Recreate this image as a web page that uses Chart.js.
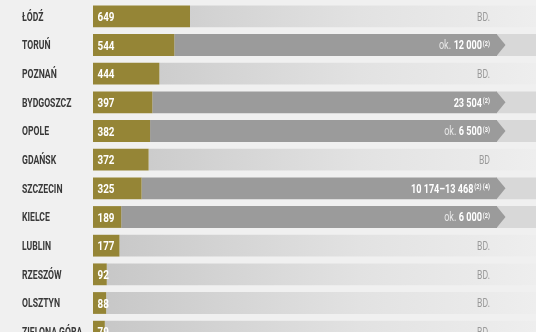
<!DOCTYPE html>
<html><head><meta charset="utf-8">
<script src="https://cdn.jsdelivr.net/npm/chart.js@4"></script>
<style>
html,body{margin:0;padding:0;background:#f0f0f0;overflow:hidden;width:536px;height:332px;}
#wrap{width:536px;height:346px;position:relative;}
</style></head><body>
<div id="wrap"><canvas id="c"></canvas></div>
<script>
const cities = ['ŁÓDŹ','TORUŃ','POZNAŃ','BYDGOSZCZ','OPOLE','GDAŃSK','SZCZECIN','KIELCE','LUBLIN','RZESZÓW','OLSZTYN','ZIELONA GÓRA'];
const counted = [649,544,444,397,382,372,325,189,177,92,88,79];
const estPrefix = ['','ok.','','','ok.','','','ok.','','','',''];
const estimates = ['BD.','12 000','BD.','23 504','6 500','BD','10 174–13 468','6 000','BD.','BD.','BD.','BD.'];
const estNotes = ['','(2)','','(2)','(3)','','(2) (4)','(2)','','','',''];
const hasEst = [false,true,false,true,true,false,true,true,false,false,false,false];

const AXIS_MAX = 2964;
const ARROW_AT = 2703;
const GOLD = '#958536', DARK = '#9b9b9b', TAIL = '#d8d8d8';
const FONT = 'Roboto,"DejaVu Sans",sans-serif';
const SX = 0.73;

function grad(ctx){
  const ch = ctx.chart, a = ch.chartArea;
  if(!a) return '#dddddd';
  const g = ch.ctx.createLinearGradient(a.left,0,a.right,0);
  g.addColorStop(0,'#c6c6c6');
  g.addColorStop(0.6,'#e2e2e2');
  g.addColorStop(1,'#eeeeee');
  return g;
}

function txt(ctx, s, x, y, align, font, color, sx){
  ctx.font = font;
  const w = ctx.measureText(s).width * sx;
  const left = align === 'right' ? x - w : x;
  ctx.save();
  ctx.translate(left, y);
  ctx.scale(sx, 1);
  ctx.textAlign = 'left';
  ctx.textBaseline = 'alphabetic';
  ctx.fillStyle = color;
  ctx.fillText(s, 0, 0);
  ctx.restore();
  return w;
}

const decor = {
  id:'decor',
  afterDatasetsDraw(chart){
    const ctx = chart.ctx;
    ctx.save();
    chart.getDatasetMeta(1).data.forEach((el,i)=>{
      if(!hasEst[i]) return;
      const p = el.getProps(['x','y','height'],true);
      ctx.fillStyle = DARK;
      ctx.beginPath();
      ctx.moveTo(p.x-0.5,p.y-p.height/2);
      ctx.lineTo(p.x+8.5,p.y);
      ctx.lineTo(p.x-0.5,p.y+p.height/2);
      ctx.closePath(); ctx.fill();
    });
    // category labels from the y scale
    const ys = chart.scales.y;
    ys.getLabels().forEach((lab,i)=>{
      const y = ys.getPixelForTick(i);
      txt(ctx, lab, 22, y+4.4, 'left', 'bold 12px '+FONT, '#393939', 0.72);
    });
    chart.getDatasetMeta(0).data.forEach((el,i)=>{
      const p = el.getProps(['base','y'],true);
      txt(ctx, String(counted[i]), p.base+4.5, p.y+4.7, 'left', 'bold 13px '+FONT, '#ffffff', 0.76);
    });
    const right = chart.scales.x.getPixelForValue(ARROW_AT) - 7;
    chart.getDatasetMeta(0).data.forEach((el,i)=>{
      const y = el.getProps(['y'],true).y + 4.4;
      if(!hasEst[i]){
        txt(ctx, estimates[i], right, y, 'right', '12px '+FONT, '#9a9a9a', 0.72);
        return;
      }
      let x = right;
      if(estNotes[i]){
        x -= txt(ctx, estNotes[i], x, y-3.6, 'right', 'bold 7px '+FONT, '#ffffff', 0.8) + 0.8;
      }
      x -= txt(ctx, estimates[i], x, y, 'right', 'bold 12px '+FONT, '#ffffff', 0.76) + 2.5;
      if(estPrefix[i]){
        txt(ctx, estPrefix[i], x, y, 'right', '12px '+FONT, '#e6e6e6', 0.76);
      }
    });
    ctx.restore();
  }
};

new Chart(document.getElementById('c'), {
  type:'bar',
  data:{
    labels: cities,
    datasets:[
      {data: counted, backgroundColor: GOLD},
      {data: counted.map((v,i)=> hasEst[i] ? [v, ARROW_AT] : null), backgroundColor: DARK},
      {data: counted.map((v,i)=> hasEst[i] ? [ARROW_AT, AXIS_MAX] : null), backgroundColor: TAIL},
      {data: counted.map((v,i)=> hasEst[i] ? null : [v, AXIS_MAX]), backgroundColor: grad}
    ]
  },
  options:{
    indexAxis:'y',
    responsive:true,
    maintainAspectRatio:false,
    animation:false,
    layout:{padding:{left:22,top:2,right:0,bottom:0}},
    datasets:{bar:{grouped:false, categoryPercentage:1, barPercentage:0.76, borderWidth:0}},
    plugins:{legend:{display:false}, tooltip:{enabled:false}},
    scales:{
      x:{display:false, min:0, max:AXIS_MAX},
      y:{
        grid:{display:false},
        border:{display:false},
        afterFit(s){ s.width = 71; },
        ticks:{display:false}
      }
    }
  },
  plugins:[decor]
});
</script>
</body></html>
